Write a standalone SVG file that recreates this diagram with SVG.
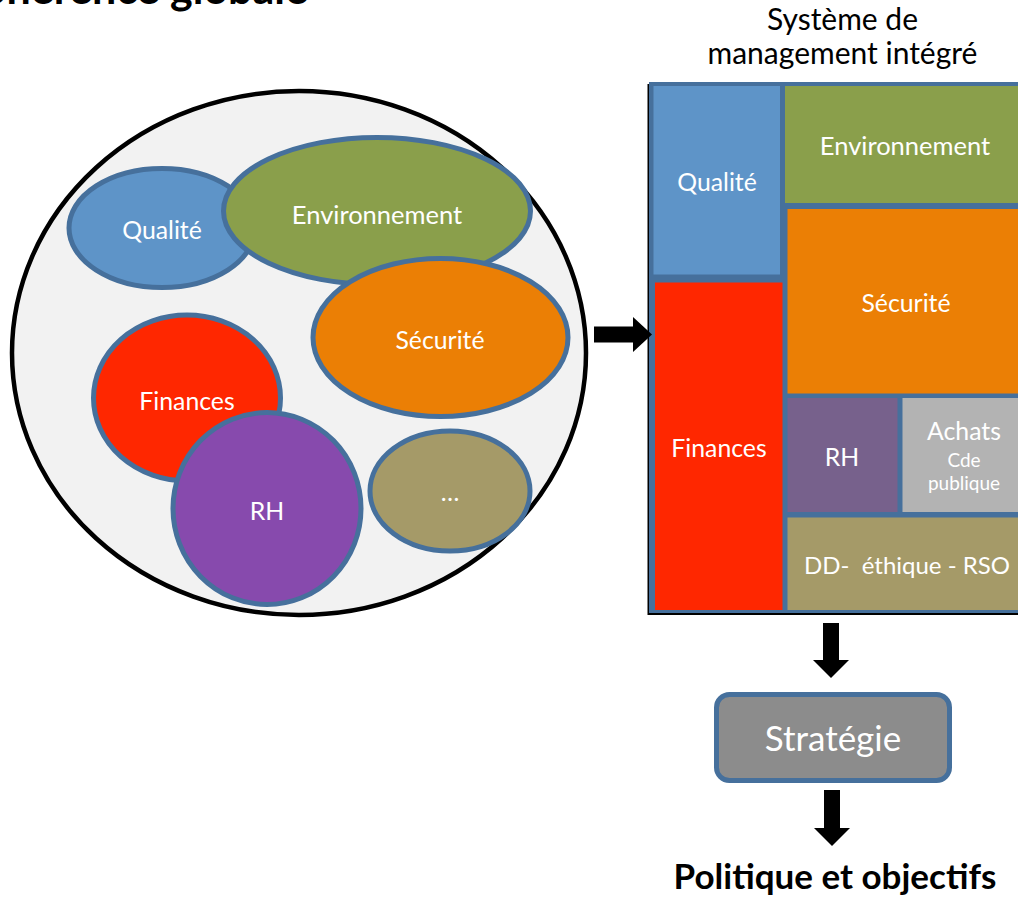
<svg xmlns="http://www.w3.org/2000/svg" width="1018" height="899" viewBox="0 0 1018 899">
<style>
.t{font-family:Lato,"Liberation Sans",sans-serif;fill:#ffffff;text-anchor:middle}
.b24{font-size:24.8px}
.dk{font-family:Lato,"Liberation Sans",sans-serif;fill:#000000;text-anchor:middle}
.el{stroke:#46709C;stroke-width:5}
.arrow{fill:#000000}
</style>
<rect width="1018" height="899" fill="#ffffff"/>
<text id="title" x="308" y="4" font-family="Lato,'Liberation Sans',sans-serif" font-weight="bold" font-size="43" text-anchor="end" fill="#000">Cohérence globale</text>

<g id="left-group">
<ellipse id="outer-circle" cx="299" cy="353" rx="287" ry="262" fill="#F2F2F2" stroke="#000" stroke-width="4.5"/>
<g id="n-qualite"><ellipse class="el" cx="162" cy="228" rx="93" ry="59.5" fill="#5E94C8"/><text class="t b24" x="162" y="239">Qualité</text></g>
<g id="n-env"><ellipse class="el" cx="377" cy="211" rx="153.5" ry="73.5" fill="#8A9F4B"/><text class="t" font-size="25.5" x="377" y="224">Environnement</text></g>
<g id="n-secu"><ellipse class="el" cx="440.5" cy="337.5" rx="127.5" ry="79" fill="#EB7F05"/><text class="t b24" x="440" y="349">Sécurité</text></g>
<g id="n-fin"><ellipse class="el" cx="187" cy="398" rx="93.5" ry="83" fill="#FF2700"/><text class="t b24" x="187" y="410">Finances</text></g>
<g id="n-rh"><ellipse class="el" cx="267" cy="508.5" rx="94" ry="96" fill="#874AAD"/><text class="t b24" x="267" y="520">RH</text></g>
<g id="n-etc"><ellipse class="el" cx="450" cy="491" rx="80" ry="60" fill="#A59A68"/><text class="t b24" x="450" y="501">…</text></g>
</g>

<g id="smi">
<text class="dk" x="842.5" y="30" font-size="30">Système de</text>
<text class="dk" x="842.5" y="64" font-size="30">management intégré</text>
<rect x="647.5" y="84" width="380" height="531" fill="#000"/>
<rect x="649" y="82" width="380" height="531" fill="#46709C"/>
<g id="r-qualite"><rect x="653.5" y="86" width="126.5" height="188.5" fill="#5E94C8"/><text class="t b24" x="717" y="191">Qualité</text></g>
<g id="r-env"><rect x="785" y="86" width="240" height="117" fill="#8A9F4B"/><text class="t" font-size="25.5" x="905" y="155">Environnement</text></g>
<g id="r-secu"><rect x="787.5" y="209" width="240" height="184.5" fill="#EB7F05"/><text class="t b24" x="906" y="312">Sécurité</text></g>
<g id="r-fin"><rect x="655" y="282.5" width="127.5" height="327.5" fill="#FF2700"/><text class="t b24" x="719" y="457">Finances</text></g>
<g id="r-rh"><rect x="787.5" y="398" width="110" height="114" fill="#77618C"/><text class="t b24" x="842" y="466">RH</text></g>
<g id="r-achats"><rect x="902.5" y="398" width="130" height="114" fill="#B3B3B3"/><text class="t b24" x="964" y="440">Achats</text><text class="t" font-size="19" x="964" y="467">Cde</text><text class="t" font-size="19" x="964" y="490">publique</text></g>
<g id="r-dd"><rect x="787.5" y="517.5" width="240" height="92.5" fill="#A59A68"/><text class="t" font-size="24" x="907" y="574" xml:space="preserve">DD-  éthique - RSO</text></g>
</g>

<g id="n-strategie"><rect x="716.5" y="694.5" width="233" height="86" rx="13" fill="#8C8C8C" stroke="#46709C" stroke-width="5"/><text class="t" font-size="35" x="833" y="751">Stratégie</text></g>
<text id="n-politique" class="dk" x="835" y="889" font-size="35" font-weight="bold">Politique et objectifs</text>

<g id="connectors">
<polygon class="arrow" points="594,326.5 633,326.5 633,317 652,334.5 633,352 633,342.5 594,342.5"/>
<polygon class="arrow" points="823,623 839,623 839,660 849,660 831,678 813,660 823,660"/>
<polygon class="arrow" points="824,790 840,790 840,828 850,828 832,846 814,828 824,828"/>
</g>
</svg>
